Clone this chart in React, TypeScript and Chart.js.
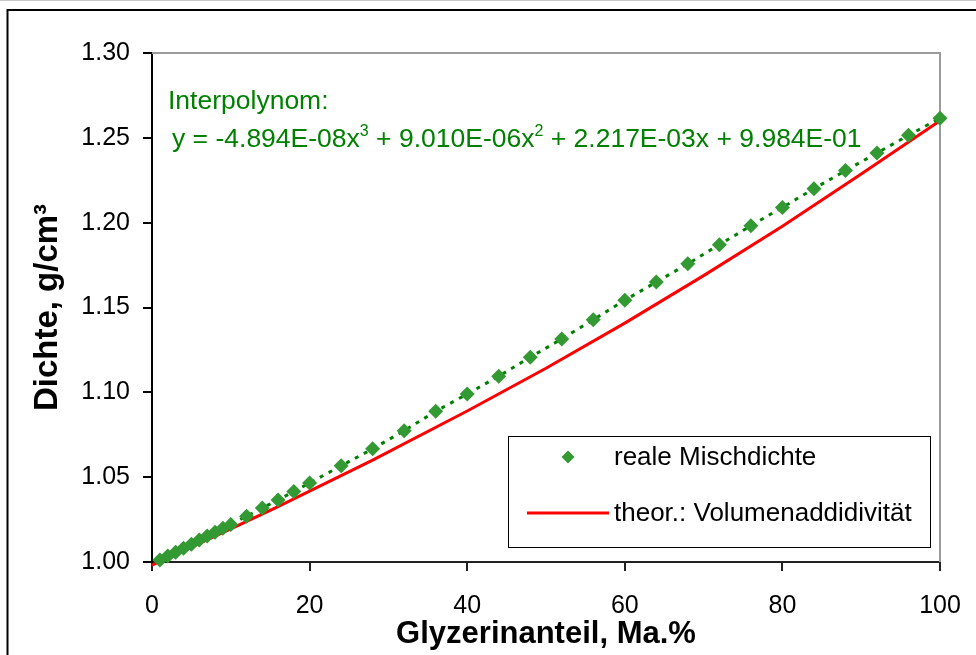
import React, { useEffect, useRef } from "react";
import { Chart, registerables } from "chart.js";

Chart.register(...registerables);

// ---- data ----
const realX = [1, 2, 3, 4, 5, 6, 7, 8, 9, 10, 12, 14, 16, 18, 20, 24, 28, 32, 36, 40, 44, 48, 52, 56, 60, 64, 68, 72, 76, 80, 84, 88, 92, 96, 100];
const realY = [1.0012, 1.0035, 1.0058, 1.0081, 1.0105, 1.0129, 1.0153, 1.0176, 1.0199, 1.0221, 1.027, 1.0318, 1.0366, 1.0415, 1.0466, 1.0567, 1.0667, 1.0774, 1.0888, 1.099, 1.1095, 1.1207, 1.1315, 1.1428, 1.1543, 1.165, 1.1758, 1.187, 1.1982, 1.209, 1.22, 1.2307, 1.241, 1.2515, 1.2616];
const theoX = [0, 5, 10, 16, 28, 40, 50, 60, 70, 80, 90, 100];
const theoY = [0.9982, 1.0087, 1.0195, 1.0326, 1.0601, 1.089, 1.1142, 1.1408, 1.1688, 1.1979, 1.2287, 1.26];

const xTicks = [0, 20, 40, 60, 80, 100];
const xTickLabels = ["0", "20", "40", "60", "80", "100"];
const yTicks = [1.0, 1.05, 1.1, 1.15, 1.2, 1.25, 1.3];
const yTickLabels = ["1.00", "1.05", "1.10", "1.15", "1.20", "1.25", "1.30"];

const seriesLabels = ["reale Mischdichte", "theor.: Volumenaddidivität"];
const xTitle = "Glyzerinanteil, Ma.%";
const yTitle = "Dichte, g/cm³";
const equationTitle = "Interpolynom:";
const equationParts: { t: string; sup?: boolean }[] = [
  { t: "y = -4.894E-08x" },
  { t: "3", sup: true },
  { t: " + 9.010E-06x" },
  { t: "2", sup: true },
  { t: " + 2.217E-03x + 9.984E-01" },
];

const FONT = '"Liberation Sans", Arial, sans-serif';
const GREEN_TEXT = "#008000";
const MARKER = "#339933";

function drawDiamond(ctx: CanvasRenderingContext2D, x: number, y: number, r: number, color: string) {
  ctx.beginPath();
  ctx.moveTo(x - r, y);
  ctx.lineTo(x, y - r);
  ctx.lineTo(x + r, y);
  ctx.lineTo(x, y + r);
  ctx.closePath();
  ctx.fillStyle = color;
  ctx.fill();
}

const decorPlugin = {
  id: "decor",
  beforeDraw(chart: any) {
    const ctx = chart.ctx as CanvasRenderingContext2D;
    ctx.save();
    ctx.fillStyle = "#ffffff";
    ctx.fillRect(0, 0, chart.width, chart.height);
    ctx.strokeStyle = "#c8c8c8";
    ctx.lineWidth = 1;
    ctx.beginPath();
    ctx.moveTo(0, 0.5);
    ctx.lineTo(chart.width, 0.5);
    ctx.stroke();
    ctx.strokeStyle = "#000";
    ctx.lineWidth = 2;
    ctx.beginPath();
    ctx.moveTo(chart.width + 5, 10);
    ctx.lineTo(7.5, 10);
    ctx.lineTo(7.5, chart.height + 5);
    ctx.stroke();
    ctx.restore();
  },
  beforeDatasetsDraw(chart: any) {
    const ctx = chart.ctx as CanvasRenderingContext2D;
    const a = chart.chartArea;
    ctx.save();
    ctx.strokeStyle = "#9a9a9a";
    ctx.lineWidth = 2;
    ctx.beginPath();
    ctx.moveTo(a.left, a.top);
    ctx.lineTo(a.right, a.top);
    ctx.lineTo(a.right, a.bottom);
    ctx.stroke();
    ctx.restore();
  },
  afterDraw(chart: any) {
    const ctx = chart.ctx as CanvasRenderingContext2D;
    const a = chart.chartArea;
    ctx.save();
    // equation annotation
    ctx.fillStyle = GREEN_TEXT;
    ctx.textBaseline = "alphabetic";
    ctx.textAlign = "left";
    ctx.font = `26.5px ${FONT}`;
    ctx.fillText(equationTitle, a.left + 16, a.top + 56);
    let x = a.left + 20;
    const base = a.top + 94;
    for (const p of equationParts) {
      if (p.sup) {
        ctx.font = `16px ${FONT}`;
        ctx.fillText(p.t, x, base - 11);
      } else {
        ctx.font = `26.5px ${FONT}`;
        ctx.fillText(p.t, x, base);
      }
      x += ctx.measureText(p.t).width;
    }

    // legend
    const lx = a.right - 432;
    const ly = a.bottom - 126;
    const lw = 422;
    const lh = 111;
    ctx.fillStyle = "#fff";
    ctx.fillRect(lx, ly, lw, lh);
    ctx.strokeStyle = "#000";
    ctx.lineWidth = 1;
    ctx.strokeRect(lx + 0.5, ly + 0.5, lw, lh);
    const ds = chart.data.datasets;
    drawDiamond(ctx, lx + 60, ly + 21, 6.5, ds[0].pointBackgroundColor);
    ctx.strokeStyle = ds[1].borderColor;
    ctx.lineWidth = 3;
    ctx.beginPath();
    ctx.moveTo(lx + 19, ly + 77);
    ctx.lineTo(lx + 101, ly + 77);
    ctx.stroke();
    ctx.fillStyle = "#000";
    ctx.font = `26px ${FONT}`;
    ctx.textBaseline = "middle";
    ctx.fillText(ds[0].label, lx + 106, ly + 22);
    ctx.fillText(ds[1].label, lx + 106, ly + 78);
    ctx.restore();
  },
};

export default function App() {
  const ref = useRef<HTMLCanvasElement | null>(null);
  useEffect(() => {
    if (!ref.current) return;
    const chart = new Chart(ref.current, {
      type: "scatter",
      data: {
        datasets: [
          {
            label: seriesLabels[0],
            data: realX.map((x, i) => ({ x, y: realY[i] })),
            showLine: true,
            borderColor: GREEN_TEXT,
            borderWidth: 3,
            borderDash: [4, 6],
            pointStyle: "rectRot",
            pointRadius: 7.5,
            pointBackgroundColor: MARKER,
            pointBorderColor: MARKER,
            pointBorderWidth: 0,
            clip: false,
          } as any,
          {
            label: seriesLabels[1],
            data: theoX.map((x, i) => ({ x, y: theoY[i] })),
            showLine: true,
            borderColor: "#ff0000",
            borderWidth: 3,
            pointRadius: 0,
            tension: 0,
            clip: false,
          } as any,
        ],
      },
      options: {
        animation: false,
        responsive: false,
        devicePixelRatio: 1,
        layout: { padding: { top: 53, right: 36, left: 0, bottom: 0 } },
        plugins: {
          legend: { display: false },
          tooltip: { enabled: false },
        },
        scales: {
          x: {
            type: "linear",
            min: 0,
            max: 100,
            afterBuildTicks: (s: any) => {
              s.ticks = xTicks.map((v) => ({ value: v }));
            },
            afterFit: (s: any) => {
              s.height = 93;
              s.paddingLeft = 8;
              s.paddingRight = 22;
            },
            ticks: {
              callback: (_v: any, i: number) => xTickLabels[i],
              font: { family: FONT, size: 25 },
              color: "#000",
              padding: 20,
              maxRotation: 0,
              autoSkip: false,
            },
            grid: { drawOnChartArea: false, drawTicks: true, tickLength: 9, color: "#222", lineWidth: 2 },
            border: { display: true, color: "#222", width: 2 },
            title: {
              display: true,
              text: xTitle,
              color: "#000",
              font: { family: FONT, size: 31, weight: "bold" },
              padding: { top: 0, bottom: 2 },
            },
          },
          y: {
            type: "linear",
            min: 1.0,
            max: 1.3,
            afterBuildTicks: (s: any) => {
              s.ticks = yTicks.map((v) => ({ value: v }));
            },
            afterFit: (s: any) => {
              s.width = 152;
            },
            ticks: {
              callback: (_v: any, i: number) => yTickLabels[i],
              font: { family: FONT, size: 25 },
              color: "#000",
              padding: 13,
              autoSkip: false,
            },
            grid: { drawOnChartArea: false, drawTicks: true, tickLength: 9, color: "#000", lineWidth: 2 },
            border: { display: true, color: "#000", width: 2 },
            title: {
              display: true,
              text: yTitle,
              color: "#000",
              font: { family: FONT, size: 33, weight: "bold" },
              padding: { top: 28, bottom: 0 },
            },
          },
        },
      },
      plugins: [decorPlugin],
    });
    return () => chart.destroy();
  }, []);
  return (
    <div style={{ position: "absolute", left: 0, top: 0, width: 976, height: 655 }}>
      <canvas ref={ref} width={976} height={655} style={{ display: "block", width: 976, height: 655 }} />
    </div>
  );
}
